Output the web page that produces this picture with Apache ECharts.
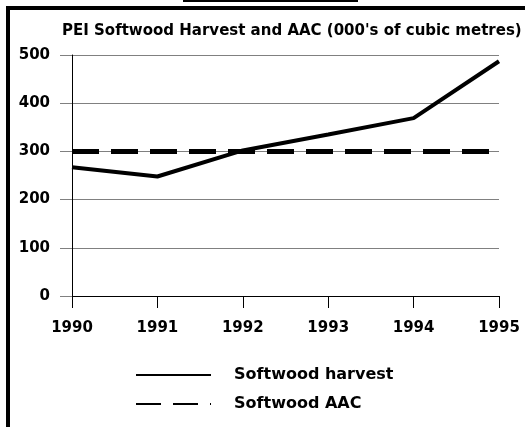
<!DOCTYPE html>
<html lang="en">
<head>
    <meta charset="UTF-8">
    <title>PEI Softwood Harvest and AAC</title>
    <script src="https://cdn.jsdelivr.net/npm/echarts@6/dist/echarts.min.js"></script>
    <style>
        html, body { margin: 0; padding: 0; background: #fff; }
        #chart { width: 525px; height: 427px; }
    </style>
</head>
<body>
    <div id="chart"></div>
    <script>
        var years = ['1990', '1991', '1992', '1993', '1994', '1995'];
        var harvest = [267, 248, 302, 335, 369, 487];
        var aac = [300, 300, 300, 300, 300, 300];
        var yTicks = { min: 0, max: 500, interval: 100 };

        var chart = echarts.init(document.getElementById('chart'));
        var boldFont = 'DejaVu Sans';

        chart.setOption({
            animation: false,
            backgroundColor: '#fff',
            title: {
                text: "PEI Softwood Harvest and AAC (000's of cubic metres)",
                left: 57,
                top: 19,
                textStyle: { fontFamily: boldFont, fontWeight: 'bold', fontSize: 15, color: '#000' }
            },
            graphic: [
                // frame round the chart
                { type: 'rect', shape: { x: 6, y: 6, width: 540, height: 4 }, style: { fill: '#000' } },
                { type: 'rect', shape: { x: 6, y: 6, width: 4, height: 430 }, style: { fill: '#000' } },
                // short line above the frame
                { type: 'rect', shape: { x: 183, y: 0, width: 175, height: 2 }, style: { fill: '#000' } }
            ],
            grid: { left: 72, right: 26, top: 55, bottom: 131 },
            legend: {
                orient: 'vertical',
                left: 130,
                top: 362,
                itemWidth: 75,
                itemHeight: 16,
                itemGap: 13,
                lineStyle: { width: 2 },
                // hide the marker echarts puts in the middle of line icons
                itemStyle: { color: 'rgba(0,0,0,0)', borderColor: 'rgba(0,0,0,0)', borderWidth: 0 },
                textStyle: { fontFamily: boldFont, fontWeight: 'bold', fontSize: 16, color: '#000', padding: [0, 0, 0, 18] },
                data: [
                    { name: 'Softwood harvest' },
                    { name: 'Softwood AAC', lineStyle: { width: 2, type: [25, 12] } }
                ]
            },
            xAxis: {
                type: 'category',
                data: years,
                boundaryGap: false,
                axisLine: { lineStyle: { color: '#000', width: 1 } },
                axisTick: { show: true, length: 12, lineStyle: { color: '#000' } },
                axisLabel: { margin: 25, fontFamily: boldFont, fontWeight: 'bold', fontSize: 15, color: '#000' },
                splitLine: { show: false }
            },
            yAxis: {
                type: 'value',
                min: yTicks.min,
                max: yTicks.max,
                interval: yTicks.interval,
                axisLine: { show: true, lineStyle: { color: '#000', width: 1 } },
                axisTick: { show: true, length: 12, lineStyle: { color: '#808080' } },
                axisLabel: { margin: 22, fontFamily: boldFont, fontWeight: 'bold', fontSize: 15, color: '#000' },
                splitLine: { show: true, lineStyle: { color: '#808080', width: 1 } }
            },
            series: [{
                name: 'Softwood harvest',
                type: 'line',
                data: harvest,
                color: '#000',
                symbol: 'none',
                z: 3,
                lineStyle: { color: '#000', width: 4 }
            }, {
                name: 'Softwood AAC',
                type: 'line',
                data: aac,
                color: '#000',
                symbol: 'none',
                z: 2,
                lineStyle: { color: '#000', width: 5, type: [27, 12] }
            }]
        });
    </script>
</body>
</html>
